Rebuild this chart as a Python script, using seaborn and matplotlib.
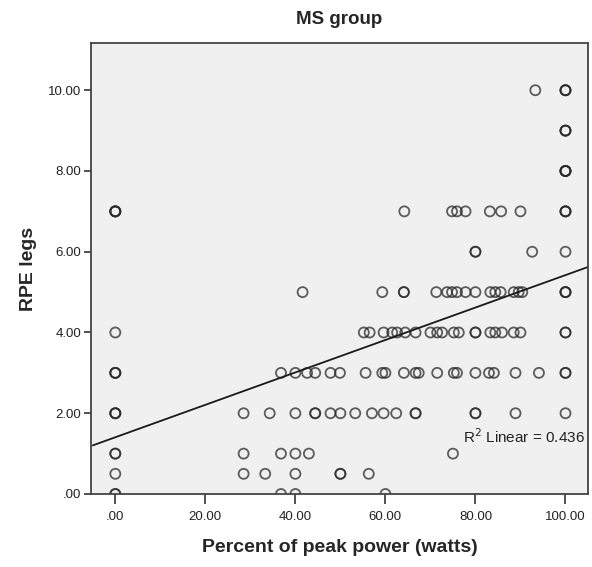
import numpy as np
import pandas as pd
import matplotlib
matplotlib.use("Agg")
import matplotlib.pyplot as plt
import seaborn as sns
from matplotlib.ticker import FuncFormatter

# Data (x = percent of peak power, y = RPE legs)
row_10 = [93.3, 100, 100, 100]
row_9 = [100, 100, 100]
row_8 = [100, 100, 100, 100]
row_7 = [0, 0, 0, 0, 64.2, 74.8, 75.9, 77.8, 83.2, 85.7, 90.0, 100, 100, 100]
row_6 = [80, 80, 92.6, 100]
row_5 = [41.6, 59.3, 64.1, 64.1, 71.3, 73.7, 74.8, 75.9, 77.8, 80, 83.3, 84.4,
         85.6, 88.5, 89.6, 90.4, 100, 100, 100]
row_4 = [0, 55.2, 56.5, 59.6, 61.5, 62.6, 64.4, 66.7, 70.0, 71.5, 72.6, 75.2,
         76.3, 80, 80, 83.3, 84.4, 85.9, 88.5, 90.0, 100, 100]
row_3 = [0, 0, 0, 36.8, 40.0, 42.6, 44.4, 47.8, 49.9, 55.6, 59.3, 60.0, 64.1,
         66.7, 67.4, 71.5, 75.2, 75.9, 80, 83.0, 84.1, 88.9, 94.1, 100, 100]
row_2 = [0, 0, 0, 28.5, 34.3, 40.0, 44.4, 44.4, 47.8, 50.0, 53.3, 57.0, 59.6,
         62.4, 66.7, 66.7, 80, 80, 88.9, 100]
row_1 = [0, 0, 28.5, 36.8, 40.0, 43.0, 75.0]
row_05 = [0, 28.5, 33.3, 40.0, 50.0, 50.0, 56.3]
row_0 = [0, 0, 36.8, 40.0, 60.0]

rows = {10: row_10, 9: row_9, 8: row_8, 7: row_7, 6: row_6, 5: row_5,
        4: row_4, 3: row_3, 2: row_2, 1: row_1, 0.5: row_05, 0: row_0}

xs, ys = [], []
for yv, lst in rows.items():
    xs += lst
    ys += [yv] * len(lst)
df = pd.DataFrame({"power": xs, "rpe": ys})

sns.set_style("white")
plt.rcParams['font.family'] = ['Liberation Sans', 'DejaVu Sans']

fig = plt.figure(figsize=(5.92, 5.67), dpi=100)
ax = fig.add_axes([91/592, 1-494/567, (588-91)/592, (494-43)/567])
ax.set_facecolor("#f0f0f0")

sns.regplot(data=df, x="power", y="rpe", ax=ax, ci=None, truncate=False,
            marker="o",
            scatter_kws=dict(s=52, facecolors="none", edgecolors="#2a2a2a",
                             linewidths=1.3, alpha=0.75, clip_on=True),
            line_kws=dict(color="#1a1a1a", lw=1.3))

ax.set_xlim(-5.4, 105.0)
ax.set_ylim(0, 11.17)
ax.set_xticks([0, 20, 40, 60, 80, 100])
ax.set_yticks([0, 2, 4, 6, 8, 10])
fmt = FuncFormatter(lambda v, p: (f"{v:.2f}")[1:] if abs(v) < 1e-9 else f"{v:.2f}")
ax.xaxis.set_major_formatter(fmt)
ax.yaxis.set_major_formatter(fmt)
ax.tick_params(axis="x", direction="out", length=7, width=1.2, color="#333333",
               labelsize=9.5, labelcolor="#222222", bottom=True, pad=5)
ax.tick_params(axis="y", direction="out", length=5, width=1.2, color="#333333",
               labelsize=9.5, labelcolor="#222222", left=True, pad=2)
for s in ax.spines.values():
    s.set_color("#444444")
    s.set_linewidth(1.3)

ax.set_xlabel("Percent of peak power (watts)", fontsize=14, fontweight="bold",
              labelpad=12)
ax.set_ylabel("RPE legs", fontsize=14, fontweight="bold", labelpad=8)
ax.set_title("MS group", fontsize=13.5, fontweight="bold", pad=14)

ax.text(104.3, 1.42, r"R$^2$ Linear = 0.436", ha="right", va="center",
        fontsize=11, color="#222222")

fig.savefig("out.png", dpi=100)
